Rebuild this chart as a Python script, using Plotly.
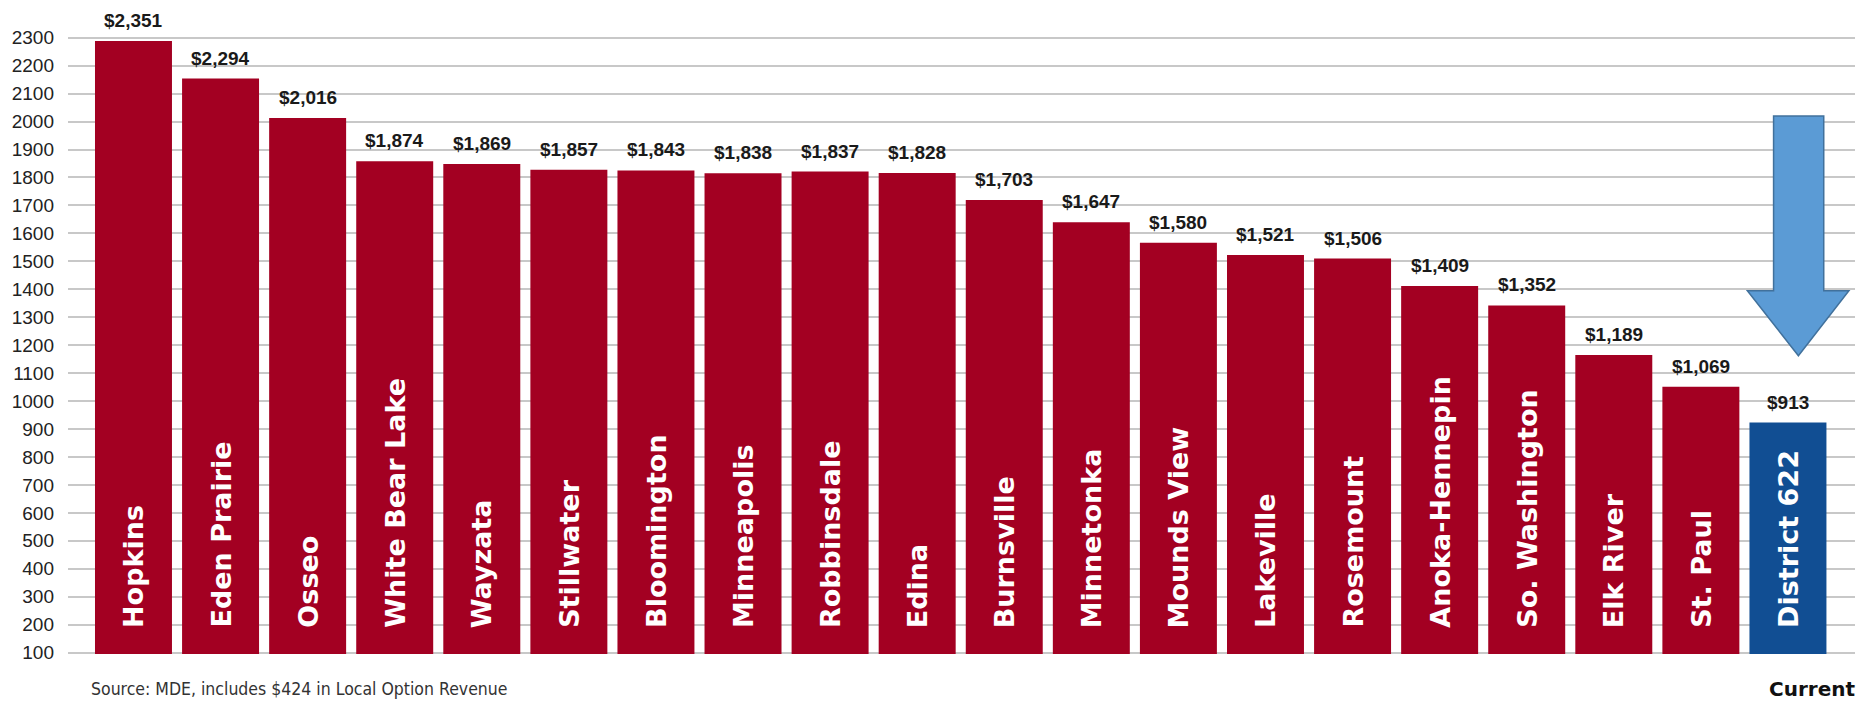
import plotly.graph_objects as go

# ---------------- data ----------------
districts = ["Hopkins", "Eden Prairie", "Osseo", "White Bear Lake", "Wayzata",
             "Stillwater", "Bloomington", "Minneapolis", "Robbinsdale", "Edina",
             "Burnsville", "Minnetonka", "Mounds View", "Lakeville", "Rosemount",
             "Anoka-Hennepin", "So. Washington", "Elk River", "St. Paul", "District 622"]
# printed value labels (dollars per pupil)
revenue_labels = [2351, 2294, 2016, 1874, 1869, 1857, 1843, 1838, 1837, 1828,
                  1703, 1647, 1580, 1521, 1506, 1409, 1352, 1189, 1069, 913]
# bar heights as drawn in the picture (read against the gridlines)
bar_heights = [2288, 2154, 2013, 1858, 1848, 1828, 1825, 1815, 1821, 1816,
               1719, 1640, 1566, 1523, 1510, 1412, 1342, 1165, 1051, 923]
y_ticks = [100, 200, 300, 400, 500, 600, 700, 800, 900, 1000, 1100, 1200,
           1300, 1400, 1500, 1600, 1700, 1800, 1900, 2000, 2100, 2200, 2300]
highlight = "District 622"
source_note = "Source: MDE, includes $424 in Local Option Revenue"
footer_label = "Current"

# ---------------- style ----------------
RED = "#A30022"
BLUE = "#114E93"
colors = [BLUE if d == highlight else RED for d in districts]
SANS = "Liberation Sans, Arial, sans-serif"
BOLD = "DejaVu Sans, Verdana, sans-serif"
COND = "DejaVu Sans Condensed, Liberation Sans Narrow, Liberation Sans, sans-serif"

fig = go.Figure()
fig.add_trace(go.Bar(
    x=districts, y=bar_heights,
    marker=dict(color=colors, line=dict(width=0)),
    hoverinfo="skip",
))

annotations = []
for d, h, v in zip(districts, bar_heights, revenue_labels):
    annotations.append(dict(
        x=d, y=h, xref="x", yref="y", text=f"<b>${v:,}</b>",
        showarrow=False, yanchor="bottom", yshift=8,
        font=dict(family=SANS, size=19, color="#1a1a1a"),
    ))
    annotations.append(dict(
        x=d, y=95, xref="x", yref="y", text=f"<b>{d}</b>",
        showarrow=False, yanchor="bottom", textangle=-90, yshift=24,
        font=dict(family=BOLD, size=27, color="white"),
    ))

annotations.append(dict(
    x=0.0118, y=-0.054, xref="paper", yref="paper", text=source_note,
    showarrow=False, xanchor="left", yanchor="middle",
    font=dict(family=COND, size=17.5, color="#333333"),
))
annotations.append(dict(
    x=0.976, y=-0.054, xref="paper", yref="paper", text=f"<b>{footer_label}</b>",
    showarrow=False, xanchor="center", yanchor="middle",
    font=dict(family=BOLD, size=20, color="#111111"),
))

arrow_path = ("M 18.835,2020 L 19.411,2020 L 19.411,1395 L 19.70,1395 "
              "L 19.12,1162 L 18.534,1395 L 18.835,1395 Z")

fig.update_layout(
    width=1863, height=704,
    margin=dict(l=68, r=8, t=0, b=50),
    paper_bgcolor="white", plot_bgcolor="white",
    showlegend=False,
    bargap=0.116,
    xaxis=dict(range=[-0.752, 19.77], showticklabels=False, showgrid=False,
               zeroline=False, showline=False, ticks=""),
    yaxis=dict(range=[95, 2435], tickvals=y_ticks, showgrid=True,
               gridcolor="#c8c8c8", gridwidth=1.5, zeroline=False,
               showline=False, ticks="", ticklabelstandoff=13,
               tickfont=dict(family=SANS, size=19, color="#222222")),
    annotations=annotations,
    shapes=[dict(type="path", xref="x", yref="y", path=arrow_path,
                 fillcolor="#5B9BD5", line=dict(color="#41719C", width=1.5),
                 layer="above")],
)

fig.write_html("out.html",
               config={"displayModeBar": False},
               post_script="document.body.style.margin='0';"
                           "document.body.style.overflow='hidden';")
